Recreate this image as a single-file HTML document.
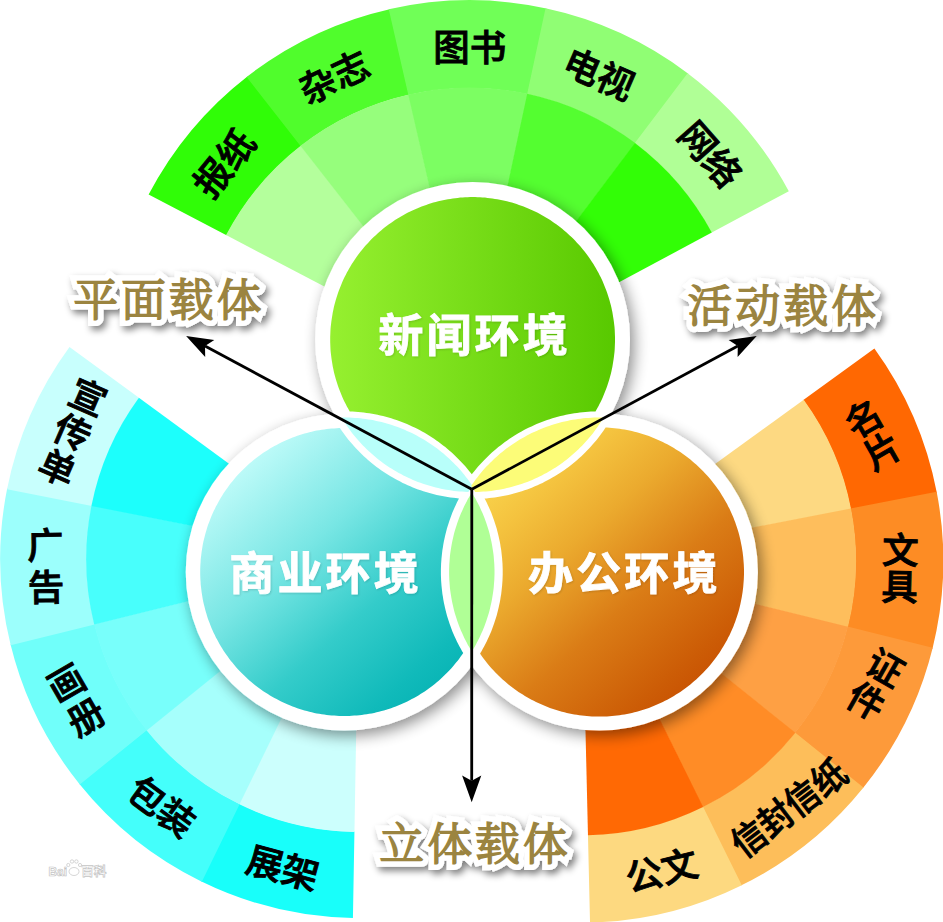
<!DOCTYPE html>
<html lang="zh"><head><meta charset="utf-8"><title>环境载体</title>
<style>html,body{margin:0;padding:0;background:#fff;}body{width:943px;height:922px;overflow:hidden;}svg{display:block;}</style>
</head><body>
<svg width="943" height="922" viewBox="0 0 943 922">
<defs>
<linearGradient id="gg" gradientUnits="userSpaceOnUse" x1="330.2" y1="0" x2="615" y2="0"><stop offset="0" stop-color="#96f030"/><stop offset="1" stop-color="#58c900"/></linearGradient>
<linearGradient id="gc" gradientUnits="userSpaceOnUse" x1="243.4" y1="456.8" x2="445" y2="687.2"><stop offset="0" stop-color="#c2fcfa"/><stop offset="0.36" stop-color="#78e6e4"/><stop offset="0.64" stop-color="#34ccca"/><stop offset="0.9" stop-color="#10baba"/><stop offset="1" stop-color="#08b4b5"/></linearGradient>
<linearGradient id="go" gradientUnits="userSpaceOnUse" x1="498.2" y1="456.3" x2="700.6" y2="687.7"><stop offset="0" stop-color="#fad850"/><stop offset="0.19" stop-color="#f4c23e"/><stop offset="0.374" stop-color="#ebaa2e"/><stop offset="0.64" stop-color="#da7c16"/><stop offset="0.91" stop-color="#cc5c06"/><stop offset="1" stop-color="#c85202"/></linearGradient>
<filter id="sh" x="-20%" y="-20%" width="140%" height="140%"><feGaussianBlur in="SourceAlpha" stdDeviation="7.5"/><feOffset dx="3.5" dy="4.5"/><feComponentTransfer><feFuncA type="linear" slope="0.45"/></feComponentTransfer><feMerge><feMergeNode/><feMergeNode in="SourceGraphic"/></feMerge></filter>
<filter id="ts" x="-20%" y="-40%" width="140%" height="180%"><feGaussianBlur in="SourceAlpha" stdDeviation="3.6"/><feOffset dx="2.5" dy="3.5"/><feComponentTransfer><feFuncA type="linear" slope="0.5"/></feComponentTransfer><feMerge><feMergeNode/><feMergeNode in="SourceGraphic"/></feMerge></filter>
<filter id="ws" x="-10%" y="-20%" width="120%" height="140%"><feGaussianBlur in="SourceAlpha" stdDeviation="1.2"/><feOffset dx="1" dy="1"/><feComponentTransfer><feFuncA type="linear" slope="0.15"/></feComponentTransfer><feMerge><feMergeNode/><feMergeNode in="SourceGraphic"/></feMerge></filter>
<clipPath id="cwg"><circle cx="472.6" cy="339.5" r="157.4"/></clipPath>
<clipPath id="cwc"><circle cx="344.2" cy="572.0" r="158.5"/></clipPath>
<clipPath id="cwo"><circle cx="599.4" cy="572.0" r="158.5"/></clipPath>
<clipPath id="clgc"><circle cx="344.2" cy="572.0" r="152.0"/></clipPath>
<clipPath id="clgo"><circle cx="599.4" cy="572.0" r="152.0"/></clipPath>
<clipPath id="clco"><circle cx="599.4" cy="572.0" r="150.3"/></clipPath>
</defs>
<rect width="943" height="922" fill="#fff"/>
<g id="fan-g">
<path d="M148.62,194.59A362.20,362.20 0 0 1 247.36,76.40L301.29,145.81A274.30,274.30 0 0 0 226.51,235.32Z" fill="#30fd07"/>
<path d="M469.60,362.40L226.07,235.09A274.80,274.80 0 0 1 300.98,145.41Z" fill="#b4ff9c"/>
<path d="M246.61,76.98A362.20,362.20 0 0 1 389.66,9.13L409.06,94.86A274.30,274.30 0 0 0 300.72,146.25Z" fill="#50fd2c"/>
<path d="M469.60,362.40L300.42,145.85A274.80,274.80 0 0 1 408.95,94.38Z" fill="#96fe7c"/>
<path d="M388.74,9.34A362.20,362.20 0 0 1 546.45,8.45L527.80,94.35A274.30,274.30 0 0 0 408.36,95.02Z" fill="#70ff57"/>
<path d="M469.60,362.40L408.25,94.54A274.80,274.80 0 0 1 527.91,93.86Z" fill="#7cfe62"/>
<path d="M545.52,8.25A362.20,362.20 0 0 1 688.33,73.71L635.25,143.77A274.30,274.30 0 0 0 527.10,94.19Z" fill="#90fe74"/>
<path d="M469.60,362.40L527.20,93.71A274.80,274.80 0 0 1 635.55,143.37Z" fill="#54fe30"/>
<path d="M687.58,73.13A362.20,362.20 0 0 1 788.81,191.24L711.34,232.78A274.30,274.30 0 0 0 634.68,143.33Z" fill="#b0ff96"/>
<path d="M469.60,362.40L634.98,142.93A274.80,274.80 0 0 1 711.78,232.54Z" fill="#32fe06"/>
</g>
<g id="fan-c">
<path d="M352.93,917.95A359.00,359.00 0 0 1 200.98,881.25L239.10,803.61A272.50,272.50 0 0 0 354.44,831.46Z" fill="#18fffa"/>
<path d="M359.20,559.00L354.44,831.96A273.00,273.00 0 0 1 238.88,804.06Z" fill="#ccfffd"/>
<path d="M201.82,881.67A359.00,359.00 0 0 1 79.22,783.71L146.68,729.56A272.50,272.50 0 0 0 239.74,803.92Z" fill="#44fffb"/>
<path d="M359.20,559.00L239.52,804.37A273.00,273.00 0 0 1 146.29,729.88Z" fill="#a6fffc"/>
<path d="M79.81,784.44A359.00,359.00 0 0 1 10.49,644.33L94.51,623.77A272.50,272.50 0 0 0 147.13,730.12Z" fill="#70fffa"/>
<path d="M359.20,559.00L146.74,730.43A273.00,273.00 0 0 1 94.02,623.89Z" fill="#78fffb"/>
<path d="M10.71,645.24A359.00,359.00 0 0 1 7.22,488.35L92.03,505.37A272.50,272.50 0 0 0 94.68,624.46Z" fill="#9cfffc"/>
<path d="M359.20,559.00L94.19,624.58A273.00,273.00 0 0 1 91.54,505.27Z" fill="#48fffc"/>
<path d="M7.04,489.27A359.00,359.00 0 0 1 69.50,346.97L139.30,398.06A272.50,272.50 0 0 0 91.89,506.07Z" fill="#c8fffd"/>
<path d="M359.20,559.00L91.40,505.97A273.00,273.00 0 0 1 138.90,397.76Z" fill="#1cfffc"/>
</g>
<g id="fan-o">
<path d="M874.39,348.39A361.80,361.80 0 0 1 936.83,492.70L850.60,509.22A274.00,274.00 0 0 0 803.31,399.94Z" fill="#ff6802"/>
<path d="M581.50,560.80L803.72,399.65A274.50,274.50 0 0 1 851.09,509.13Z" fill="#fdd982"/>
<path d="M936.65,491.77A361.80,361.80 0 0 1 932.48,648.63L847.30,627.32A274.00,274.00 0 0 0 850.47,508.52Z" fill="#fd8c24"/>
<path d="M581.50,560.80L850.96,508.42A274.50,274.50 0 0 1 847.79,627.44Z" fill="#febe5c"/>
<path d="M932.71,647.71A361.80,361.80 0 0 1 862.87,788.24L794.59,733.05A274.00,274.00 0 0 0 847.48,626.62Z" fill="#fd9a3a"/>
<path d="M581.50,560.80L847.96,626.74A274.50,274.50 0 0 1 794.98,733.36Z" fill="#fea044"/>
<path d="M863.46,787.51A361.80,361.80 0 0 1 740.95,885.57L702.26,806.75A274.00,274.00 0 0 0 795.04,732.49Z" fill="#fdbe5a"/>
<path d="M581.50,560.80L795.43,732.80A274.50,274.50 0 0 1 702.48,807.20Z" fill="#ff8c26"/>
<path d="M741.80,885.15A361.80,361.80 0 0 1 590.02,922.50L587.96,834.72A274.00,274.00 0 0 0 702.90,806.44Z" fill="#fdd980"/>
<path d="M581.50,560.80L703.12,806.89A274.50,274.50 0 0 1 587.97,835.22Z" fill="#ff6904"/>
</g>
<g filter="url(#sh)">
<circle cx="472.6" cy="339.5" r="157.4" fill="#fff"/>
<circle cx="344.2" cy="572.0" r="158.5" fill="#fff"/>
<circle cx="599.4" cy="572.0" r="158.5" fill="#fff"/>
</g>
<path d="M614.9,334.5L614.8,332.0L614.7,329.6L614.5,327.1L614.2,324.6L613.9,322.1L613.6,319.7L613.2,317.2L612.8,314.8L612.4,312.3L611.9,309.9L611.4,307.5L610.8,305.1L610.1,302.6L609.5,300.2L608.8,297.9L608.0,295.5L607.2,293.1L606.4,290.8L605.5,288.5L604.6,286.2L603.7,283.9L602.7,281.6L601.7,279.3L600.6,277.1L599.5,274.9L598.3,272.6L597.1,270.5L595.9,268.3L594.7,266.2L593.4,264.0L592.0,261.9L590.7,259.9L589.2,257.8L587.8,255.8L586.3,253.8L584.8,251.8L583.3,249.9L581.7,248.0L580.1,246.1L578.4,244.2L576.7,242.4L575.0,240.6L573.3,238.8L571.5,237.1L569.7,235.4L567.9,233.7L566.0,232.0L564.1,230.4L562.2,228.8L560.3,227.3L558.3,225.8L556.3,224.3L554.3,222.9L552.2,221.4L550.2,220.1L548.1,218.7L545.9,217.4L543.8,216.2L541.6,215.0L539.5,213.8L537.2,212.6L535.0,211.5L532.8,210.4L530.5,209.4L528.2,208.4L525.9,207.5L523.6,206.6L521.3,205.7L519.0,204.9L516.6,204.1L514.2,203.3L511.9,202.6L509.5,202.0L507.0,201.3L504.6,200.7L502.2,200.2L499.8,199.7L497.3,199.3L494.9,198.9L492.4,198.5L490.0,198.2L487.5,197.9L485.0,197.6L482.5,197.4L480.1,197.3L477.6,197.2L475.1,197.1L472.6,197.1L470.1,197.1L467.6,197.2L465.1,197.3L462.7,197.4L460.2,197.6L457.7,197.9L455.2,198.2L452.8,198.5L450.3,198.9L447.9,199.3L445.4,199.7L443.0,200.2L440.6,200.7L438.2,201.3L435.7,202.0L433.3,202.6L431.0,203.3L428.6,204.1L426.2,204.9L423.9,205.7L421.6,206.6L419.3,207.5L417.0,208.4L414.7,209.4L412.4,210.4L410.2,211.5L408.0,212.6L405.7,213.8L403.6,215.0L401.4,216.2L399.3,217.4L397.1,218.7L395.0,220.1L393.0,221.4L390.9,222.9L388.9,224.3L386.9,225.8L384.9,227.3L383.0,228.8L381.1,230.4L379.2,232.0L377.3,233.7L375.5,235.4L373.7,237.1L371.9,238.8L370.2,240.6L368.5,242.4L366.8,244.2L365.1,246.1L363.5,248.0L361.9,249.9L360.4,251.8L358.9,253.8L357.4,255.8L356.0,257.8L354.5,259.9L353.2,261.9L351.8,264.0L350.5,266.2L349.3,268.3L348.1,270.5L346.9,272.6L345.7,274.9L344.6,277.1L343.5,279.3L342.5,281.6L341.5,283.9L340.6,286.2L339.7,288.5L338.8,290.8L338.0,293.1L337.2,295.5L336.4,297.9L335.7,300.2L335.1,302.6L334.4,305.1L333.8,307.5L333.3,309.9L332.8,312.3L332.4,314.8L332.0,317.2L331.6,319.7L331.3,322.1L331.0,324.6L330.7,327.1L330.5,329.6L330.4,332.0L330.3,334.5L330.2,337.0L330.2,339.5L330.2,342.0L330.3,344.5L330.4,347.0L330.5,349.4L330.7,351.9L331.0,354.4L331.3,356.9L331.6,359.3L332.0,361.8L332.4,364.2L332.8,366.7L333.3,369.1L333.8,371.5L334.4,373.9L335.1,376.4L335.7,378.8L336.4,381.1L337.2,383.5L338.0,385.9L338.8,388.2L339.7,390.5L340.6,392.8L341.5,395.1L342.5,397.4L343.5,399.7L344.6,401.9L345.7,404.1L346.9,406.4L348.1,408.5L349.3,410.7L349.7,411.4L349.8,411.4L352.6,411.5L355.4,411.7L358.2,411.9L361.0,412.2L363.8,412.5L366.6,412.9L369.3,413.3L372.1,413.7L374.9,414.3L377.6,414.8L380.3,415.4L383.1,416.1L385.8,416.8L388.5,417.5L391.2,418.3L393.9,419.2L396.5,420.1L399.2,421.0L401.8,422.0L404.4,423.0L407.0,424.1L409.6,425.2L412.1,426.4L414.6,427.6L417.2,428.8L419.6,430.1L422.1,431.4L424.6,432.8L427.0,434.3L429.4,435.7L431.7,437.2L434.1,438.8L436.4,440.4L438.7,442.0L440.9,443.7L443.1,445.4L445.3,447.1L447.5,448.9L449.6,450.7L451.7,452.6L453.8,454.5L455.8,456.4L457.8,458.4L459.8,460.4L461.7,462.4L463.6,464.5L465.5,466.6L467.3,468.7L469.1,470.9L470.8,473.1L471.8,474.3L472.8,473.1L474.5,470.9L476.3,468.7L478.1,466.6L480.0,464.5L481.9,462.4L483.8,460.4L485.8,458.4L487.8,456.4L489.8,454.5L491.9,452.6L494.0,450.7L496.1,448.9L498.3,447.1L500.5,445.4L502.7,443.7L504.9,442.0L507.2,440.4L509.5,438.8L511.9,437.2L514.2,435.7L516.6,434.3L519.1,432.8L521.5,431.4L524.0,430.1L526.4,428.8L529.0,427.6L531.5,426.4L534.0,425.2L536.6,424.1L539.2,423.0L541.8,422.0L544.4,421.0L547.1,420.1L549.7,419.2L552.4,418.3L555.1,417.5L557.8,416.8L560.5,416.1L563.3,415.4L566.0,414.8L568.7,414.3L571.5,413.7L574.3,413.3L577.0,412.9L579.8,412.5L582.6,412.2L585.4,411.9L588.2,411.7L591.0,411.5L593.8,411.4L595.5,411.4L595.9,410.7L597.1,408.5L598.3,406.4L599.5,404.1L600.6,401.9L601.7,399.7L602.7,397.4L603.7,395.1L604.6,392.8L605.5,390.5L606.4,388.2L607.2,385.9L608.0,383.5L608.8,381.1L609.5,378.8L610.1,376.4L610.8,373.9L611.4,371.5L611.9,369.1L612.4,366.7L612.8,364.2L613.2,361.8L613.6,359.3L613.9,356.9L614.2,354.4L614.5,351.9L614.7,349.4L614.8,347.0L614.9,344.5L615.0,342.0L615.0,339.5L615.0,337.0Z" fill="url(#gg)"/>
<path d="M458.7,498.4L455.9,498.1L453.2,497.8L450.4,497.4L447.6,497.0L444.9,496.6L442.2,496.1L439.4,495.5L436.7,494.9L434.0,494.3L431.3,493.6L428.6,492.8L426.0,492.0L423.3,491.2L420.7,490.3L418.0,489.4L415.4,488.4L412.9,487.4L410.3,486.3L407.7,485.2L405.2,484.1L402.7,482.9L400.2,481.6L397.7,480.3L395.3,479.0L392.8,477.6L390.5,476.2L388.1,474.8L385.7,473.3L383.4,471.7L381.1,470.2L378.8,468.5L376.6,466.9L374.4,465.2L372.2,463.5L370.1,461.7L368.0,459.9L365.9,458.0L363.8,456.2L361.8,454.2L359.8,452.3L357.9,450.3L355.9,448.3L354.1,446.2L352.2,444.1L350.4,442.0L348.6,439.9L346.9,437.7L345.2,435.5L343.6,433.3L341.9,431.0L340.4,428.7L340.0,428.1L339.2,428.1L336.7,428.2L334.2,428.4L331.6,428.5L329.1,428.8L326.7,429.1L324.2,429.4L321.7,429.8L319.2,430.2L316.7,430.6L314.3,431.1L311.8,431.7L309.4,432.3L306.9,432.9L304.5,433.6L302.1,434.3L299.7,435.0L297.3,435.8L294.9,436.7L292.6,437.6L290.3,438.5L287.9,439.4L285.6,440.4L283.3,441.5L281.1,442.6L278.8,443.7L276.6,444.9L274.4,446.1L272.2,447.3L270.0,448.6L267.9,449.9L265.8,451.2L263.7,452.6L261.6,454.0L259.6,455.5L257.5,457.0L255.5,458.5L253.6,460.1L251.6,461.7L249.7,463.3L247.8,465.0L246.0,466.7L244.2,468.4L242.4,470.2L240.6,472.0L238.9,473.8L237.2,475.6L235.5,477.5L233.9,479.4L232.3,481.4L230.7,483.3L229.2,485.3L227.7,487.4L226.2,489.4L224.8,491.5L223.4,493.6L222.1,495.7L220.8,497.8L219.5,500.0L218.3,502.2L217.1,504.4L215.9,506.6L214.8,508.9L213.7,511.1L212.6,513.4L211.6,515.7L210.7,518.1L209.8,520.4L208.9,522.7L208.0,525.1L207.2,527.5L206.5,529.9L205.8,532.3L205.1,534.7L204.5,537.2L203.9,539.6L203.3,542.1L202.8,544.5L202.4,547.0L202.0,549.5L201.6,552.0L201.3,554.5L201.0,556.9L200.7,559.4L200.6,562.0L200.4,564.5L200.3,567.0L200.2,569.5L200.2,572.0L200.2,574.5L200.3,577.0L200.4,579.5L200.6,582.0L200.7,584.6L201.0,587.1L201.3,589.5L201.6,592.0L202.0,594.5L202.4,597.0L202.8,599.5L203.3,601.9L203.9,604.4L204.5,606.8L205.1,609.3L205.8,611.7L206.5,614.1L207.2,616.5L208.0,618.9L208.9,621.3L209.8,623.6L210.7,625.9L211.6,628.3L212.6,630.6L213.7,632.9L214.8,635.1L215.9,637.4L217.1,639.6L218.3,641.8L219.5,644.0L220.8,646.2L222.1,648.3L223.4,650.4L224.8,652.5L226.2,654.6L227.7,656.6L229.2,658.7L230.7,660.7L232.3,662.6L233.9,664.6L235.5,666.5L237.2,668.4L238.9,670.2L240.6,672.0L242.4,673.8L244.2,675.6L246.0,677.3L247.8,679.0L249.7,680.7L251.6,682.3L253.6,683.9L255.5,685.5L257.5,687.0L259.6,688.5L261.6,690.0L263.7,691.4L265.8,692.8L267.9,694.1L270.0,695.4L272.2,696.7L274.4,697.9L276.6,699.1L278.8,700.3L281.1,701.4L283.3,702.5L285.6,703.6L287.9,704.6L290.3,705.5L292.6,706.4L294.9,707.3L297.3,708.2L299.7,709.0L302.1,709.7L304.5,710.4L306.9,711.1L309.4,711.7L311.8,712.3L314.3,712.9L316.7,713.4L319.2,713.8L321.7,714.2L324.2,714.6L326.7,714.9L329.1,715.2L331.6,715.5L334.2,715.6L336.7,715.8L339.2,715.9L341.7,716.0L344.2,716.0L346.7,716.0L349.2,715.9L351.7,715.8L354.2,715.6L356.8,715.5L359.3,715.2L361.7,714.9L364.2,714.6L366.7,714.2L369.2,713.8L371.7,713.4L374.1,712.9L376.6,712.3L379.0,711.7L381.5,711.1L383.9,710.4L386.3,709.7L388.7,709.0L391.1,708.2L393.5,707.3L395.8,706.4L398.1,705.5L400.5,704.6L402.8,703.6L405.1,702.5L407.3,701.4L409.6,700.3L411.8,699.1L414.0,697.9L416.2,696.7L418.4,695.4L420.5,694.1L422.6,692.8L424.7,691.4L426.8,690.0L428.8,688.5L430.9,687.0L432.9,685.5L434.8,683.9L436.8,682.3L438.7,680.7L440.6,679.0L442.4,677.3L444.2,675.6L446.0,673.8L447.8,672.0L449.5,670.2L451.2,668.4L452.9,666.5L454.5,664.6L456.1,662.6L457.7,660.7L459.2,658.7L460.7,656.6L462.2,654.6L463.2,653.1L462.1,651.2L460.8,648.8L459.5,646.4L458.2,644.0L456.9,641.5L455.8,639.0L454.6,636.5L453.5,633.9L452.4,631.4L451.4,628.8L450.5,626.2L449.5,623.6L448.7,621.0L447.8,618.3L447.0,615.7L446.3,613.0L445.6,610.3L445.0,607.7L444.4,605.0L443.8,602.2L443.3,599.5L442.9,596.8L442.4,594.1L442.1,591.3L441.8,588.6L441.5,585.8L441.3,583.1L441.1,580.3L441.0,577.5L440.9,574.8L440.9,572.0L440.9,569.2L441.0,566.5L441.1,563.7L441.3,560.9L441.5,558.2L441.8,555.4L442.1,552.7L442.4,549.9L442.9,547.2L443.3,544.5L443.8,541.8L444.4,539.0L445.0,536.3L445.6,533.7L446.3,531.0L447.0,528.3L447.8,525.7L448.7,523.0L449.5,520.4L450.5,517.8L451.4,515.2L452.4,512.6L453.5,510.1L454.6,507.5L455.8,505.0L456.9,502.5L458.2,500.0L459.0,498.4Z" fill="url(#gc)"/>
<path d="M743.9,567.0L743.8,564.4L743.6,561.9L743.4,559.4L743.2,556.9L742.9,554.4L742.6,551.9L742.2,549.4L741.8,546.9L741.3,544.4L740.8,541.9L740.3,539.5L739.7,537.0L739.1,534.6L738.4,532.1L737.7,529.7L736.9,527.3L736.1,524.9L735.3,522.5L734.4,520.2L733.5,517.8L732.5,515.5L731.5,513.2L730.5,510.9L729.4,508.6L728.2,506.4L727.1,504.1L725.9,501.9L724.6,499.7L723.3,497.5L722.0,495.4L720.7,493.2L719.3,491.1L717.8,489.1L716.4,487.0L714.9,485.0L713.3,483.0L711.8,481.0L710.2,479.1L708.5,477.1L706.9,475.2L705.2,473.4L703.4,471.6L701.6,469.8L699.8,468.0L698.0,466.2L696.2,464.5L694.3,462.9L692.3,461.2L690.4,459.6L688.4,458.1L686.4,456.5L684.4,455.0L682.3,453.6L680.3,452.1L678.2,450.7L676.0,449.4L673.9,448.1L671.7,446.8L669.5,445.5L667.3,444.3L665.0,443.2L662.8,442.0L660.5,440.9L658.2,439.9L655.9,438.9L653.6,437.9L651.2,437.0L648.9,436.1L646.5,435.3L644.1,434.5L641.7,433.7L639.3,433.0L636.8,432.3L634.4,431.7L631.9,431.1L629.5,430.6L627.0,430.1L624.5,429.6L622.0,429.2L619.5,428.8L617.0,428.5L614.5,428.2L612.0,428.0L609.5,427.8L607.0,427.6L605.6,427.5L604.8,428.7L603.3,431.0L601.6,433.3L600.0,435.5L598.3,437.7L596.6,439.9L594.8,442.0L593.0,444.1L591.1,446.2L589.3,448.3L587.3,450.3L585.4,452.3L583.4,454.2L581.4,456.2L579.3,458.0L577.2,459.9L575.1,461.7L573.0,463.5L570.8,465.2L568.6,466.9L566.4,468.5L564.1,470.2L561.8,471.7L559.5,473.3L557.1,474.8L554.7,476.2L552.4,477.6L549.9,479.0L547.5,480.3L545.0,481.6L542.5,482.9L540.0,484.1L537.5,485.2L534.9,486.3L532.3,487.4L529.8,488.4L527.2,489.4L524.5,490.3L521.9,491.2L519.2,492.0L516.6,492.8L513.9,493.6L511.2,494.3L508.5,494.9L505.8,495.5L503.0,496.1L500.3,496.6L497.6,497.0L494.8,497.4L492.0,497.8L489.3,498.1L486.5,498.4L484.6,498.5L485.4,500.0L486.7,502.5L487.8,505.0L489.0,507.5L490.1,510.1L491.2,512.6L492.2,515.2L493.1,517.8L494.1,520.4L494.9,523.0L495.8,525.7L496.6,528.3L497.3,531.0L498.0,533.7L498.6,536.3L499.2,539.0L499.8,541.8L500.3,544.5L500.7,547.2L501.2,549.9L501.5,552.7L501.8,555.4L502.1,558.2L502.3,560.9L502.5,563.7L502.6,566.5L502.7,569.2L502.7,572.0L502.7,574.8L502.6,577.5L502.5,580.3L502.3,583.1L502.1,585.8L501.8,588.6L501.5,591.3L501.2,594.1L500.7,596.8L500.3,599.5L499.8,602.2L499.2,605.0L498.6,607.7L498.0,610.3L497.3,613.0L496.6,615.7L495.8,618.3L494.9,621.0L494.1,623.6L493.1,626.2L492.2,628.8L491.2,631.4L490.1,633.9L489.0,636.5L487.8,639.0L486.7,641.5L485.4,644.0L484.1,646.4L482.8,648.8L481.5,651.3L480.1,653.6L480.1,653.6L481.0,654.9L482.4,657.0L483.9,659.0L485.5,661.0L487.0,663.0L488.6,664.9L490.3,666.9L491.9,668.8L493.6,670.6L495.4,672.4L497.2,674.2L499.0,676.0L500.8,677.8L502.6,679.5L504.5,681.1L506.5,682.8L508.4,684.4L510.4,685.9L512.4,687.5L514.4,689.0L516.5,690.4L518.5,691.9L520.6,693.3L522.8,694.6L524.9,695.9L527.1,697.2L529.3,698.5L531.5,699.7L533.8,700.8L536.0,702.0L538.3,703.1L540.6,704.1L542.9,705.1L545.2,706.1L547.6,707.0L549.9,707.9L552.3,708.7L554.7,709.5L557.1,710.3L559.5,711.0L562.0,711.7L564.4,712.3L566.9,712.9L569.3,713.4L571.8,713.9L574.3,714.4L576.8,714.8L579.3,715.2L581.8,715.5L584.3,715.8L586.8,716.0L589.3,716.2L591.8,716.4L594.4,716.5L596.9,716.6L599.4,716.6L601.9,716.6L604.4,716.5L607.0,716.4L609.5,716.2L612.0,716.0L614.5,715.8L617.0,715.5L619.5,715.2L622.0,714.8L624.5,714.4L627.0,713.9L629.5,713.4L631.9,712.9L634.4,712.3L636.8,711.7L639.3,711.0L641.7,710.3L644.1,709.5L646.5,708.7L648.9,707.9L651.2,707.0L653.6,706.1L655.9,705.1L658.2,704.1L660.5,703.1L662.8,702.0L665.0,700.8L667.3,699.7L669.5,698.5L671.7,697.2L673.9,695.9L676.0,694.6L678.2,693.3L680.3,691.9L682.3,690.4L684.4,689.0L686.4,687.5L688.4,685.9L690.4,684.4L692.3,682.8L694.3,681.1L696.2,679.5L698.0,677.8L699.8,676.0L701.6,674.2L703.4,672.4L705.2,670.6L706.9,668.8L708.5,666.9L710.2,664.9L711.8,663.0L713.3,661.0L714.9,659.0L716.4,657.0L717.8,654.9L719.3,652.9L720.7,650.8L722.0,648.6L723.3,646.5L724.6,644.3L725.9,642.1L727.1,639.9L728.2,637.6L729.4,635.4L730.5,633.1L731.5,630.8L732.5,628.5L733.5,626.2L734.4,623.8L735.3,621.5L736.1,619.1L736.9,616.7L737.7,614.3L738.4,611.9L739.1,609.4L739.7,607.0L740.3,604.5L740.8,602.1L741.3,599.6L741.8,597.1L742.2,594.6L742.6,592.1L742.9,589.6L743.2,587.1L743.4,584.6L743.6,582.1L743.8,579.6L743.9,577.0L744.0,574.5L744.0,572.0L744.0,569.5Z" fill="url(#go)"/>
<path d="M343.3,420.3L344.7,422.6L346.2,424.8L347.7,427.0L349.2,429.1L350.8,431.3L352.4,433.4L354.1,435.5L355.8,437.5L357.5,439.5L359.3,441.5L361.1,443.5L362.9,445.4L364.8,447.3L366.7,449.2L368.6,451.0L370.6,452.8L372.6,454.6L374.6,456.3L376.6,458.0L378.7,459.7L380.8,461.3L383.0,462.9L385.1,464.4L387.3,465.9L389.5,467.4L391.8,468.8L394.1,470.2L396.3,471.6L398.7,472.9L401.0,474.1L403.4,475.4L405.7,476.6L408.2,477.7L410.6,478.8L413.0,479.9L415.5,480.9L417.9,481.9L420.4,482.8L423.0,483.7L425.5,484.5L428.0,485.3L430.6,486.1L433.1,486.8L435.7,487.5L438.3,488.1L440.9,488.7L443.5,489.2L446.1,489.7L448.7,490.1L451.4,490.5L454.0,490.9L456.7,491.2L459.3,491.4L462.0,491.6L464.6,491.8L467.3,491.9L468.4,491.9L469.2,490.7L470.7,488.4L472.1,486.2L472.4,485.8L472.3,485.6L470.8,483.4L469.2,481.2L467.6,479.0L465.9,476.9L464.3,474.8L462.6,472.7L460.8,470.6L459.0,468.6L457.2,466.6L455.3,464.7L453.4,462.8L451.5,460.9L449.6,459.0L447.6,457.2L445.6,455.4L443.5,453.6L441.4,451.9L439.3,450.3L437.2,448.6L435.0,447.0L432.8,445.4L430.6,443.9L428.3,442.4L426.1,441.0L423.8,439.6L421.4,438.2L419.1,436.9L416.7,435.6L414.3,434.3L411.9,433.1L409.5,432.0L407.0,430.9L404.6,429.8L402.1,428.8L399.6,427.8L397.0,426.8L394.5,425.9L391.9,425.1L389.4,424.3L386.8,423.5L384.2,422.8L381.6,422.1L379.0,421.5L376.3,420.9L373.7,420.3L371.0,419.8L368.4,419.4L365.7,419.0L363.0,418.7L360.3,418.3L357.7,418.1L355.0,417.9L352.3,417.7L349.6,417.6L346.9,417.5L344.2,417.5L341.6,417.5L341.9,418.0Z" fill="#b8fffa"/>
<path d="M475.3,492.0L477.9,491.9L480.6,491.8L483.2,491.6L485.9,491.4L488.5,491.2L491.2,490.9L493.8,490.5L496.5,490.1L499.1,489.7L501.7,489.2L504.3,488.7L506.9,488.1L509.5,487.5L512.1,486.8L514.6,486.1L517.2,485.3L519.7,484.5L522.2,483.7L524.8,482.8L527.3,481.9L529.7,480.9L532.2,479.9L534.6,478.8L537.0,477.7L539.5,476.6L541.8,475.4L544.2,474.1L546.5,472.9L548.9,471.6L551.1,470.2L553.4,468.8L555.7,467.4L557.9,465.9L560.1,464.4L562.2,462.9L564.4,461.3L566.5,459.7L568.6,458.0L570.6,456.3L572.6,454.6L574.6,452.8L576.6,451.0L578.5,449.2L580.4,447.3L582.3,445.4L584.1,443.5L585.9,441.5L587.7,439.5L589.4,437.5L591.1,435.5L592.8,433.4L594.4,431.3L596.0,429.1L597.5,427.0L599.0,424.8L600.5,422.6L601.9,420.3L603.3,418.0L603.6,417.6L602.1,417.5L599.4,417.5L596.7,417.5L594.0,417.6L591.3,417.7L588.6,417.9L585.9,418.1L583.3,418.3L580.6,418.7L577.9,419.0L575.2,419.4L572.6,419.8L569.9,420.3L567.3,420.9L564.6,421.5L562.0,422.1L559.4,422.8L556.8,423.5L554.2,424.3L551.7,425.1L549.1,425.9L546.6,426.8L544.0,427.8L541.5,428.8L539.0,429.8L536.6,430.9L534.1,432.0L531.7,433.1L529.3,434.3L526.9,435.6L524.5,436.9L522.1,438.2L519.8,439.6L517.5,441.0L515.3,442.4L513.0,443.9L510.8,445.4L508.6,447.0L506.4,448.6L504.3,450.3L502.2,451.9L500.1,453.6L498.0,455.4L496.0,457.2L494.0,459.0L492.1,460.9L490.2,462.8L488.3,464.7L486.4,466.6L484.6,468.6L482.8,470.6L481.0,472.7L479.3,474.8L477.7,476.9L476.0,479.0L474.4,481.2L472.8,483.4L471.3,485.6L471.2,485.8L471.5,486.2L472.9,488.4L474.4,490.7L475.2,492.0Z" fill="#fcfc78"/>
<path d="M494.4,566.8L494.3,564.1L494.1,561.5L493.9,558.9L493.7,556.3L493.4,553.7L493.0,551.1L492.6,548.5L492.2,545.9L491.7,543.3L491.2,540.8L490.6,538.2L490.0,535.6L489.4,533.1L488.7,530.6L487.9,528.1L487.1,525.6L486.3,523.1L485.4,520.6L484.5,518.1L483.6,515.7L482.6,513.3L481.5,510.9L480.4,508.5L479.3,506.1L478.1,503.8L476.9,501.4L475.7,499.1L474.4,496.9L473.0,494.6L471.8,492.6L470.6,494.6L469.2,496.9L467.9,499.1L466.7,501.4L465.5,503.8L464.3,506.1L463.2,508.5L462.1,510.9L461.0,513.3L460.0,515.7L459.1,518.1L458.2,520.6L457.3,523.1L456.5,525.6L455.7,528.1L454.9,530.6L454.2,533.1L453.6,535.6L453.0,538.2L452.4,540.8L451.9,543.3L451.4,545.9L451.0,548.5L450.6,551.1L450.2,553.7L449.9,556.3L449.7,558.9L449.5,561.5L449.3,564.1L449.2,566.8L449.1,569.4L449.1,572.0L449.1,574.6L449.2,577.2L449.3,579.9L449.5,582.5L449.7,585.1L449.9,587.7L450.2,590.3L450.6,592.9L451.0,595.5L451.4,598.1L451.9,600.7L452.4,603.2L453.0,605.8L453.6,608.4L454.2,610.9L454.9,613.4L455.7,615.9L456.5,618.4L457.3,620.9L458.2,623.4L459.1,625.9L460.0,628.3L461.0,630.7L462.1,633.1L463.2,635.5L464.3,637.9L465.5,640.2L466.7,642.6L467.9,644.9L469.2,647.1L470.6,649.4L471.8,651.4L473.0,649.4L474.4,647.2L475.7,644.9L476.9,642.6L478.1,640.2L479.3,637.9L480.4,635.5L481.5,633.1L482.6,630.7L483.6,628.3L484.5,625.9L485.4,623.4L486.3,620.9L487.1,618.4L487.9,615.9L488.7,613.4L489.4,610.9L490.0,608.4L490.6,605.8L491.2,603.2L491.7,600.7L492.2,598.1L492.6,595.5L493.0,592.9L493.4,590.3L493.7,587.7L493.9,585.1L494.1,582.5L494.3,579.9L494.4,577.2L494.5,574.6L494.5,572.0L494.5,569.4Z" fill="#b0ff96"/>
<path d="M471.8,489.2L205.0,346.1" stroke="#000" stroke-width="2.8" fill="none"/>
<path d="M186.1,335.9L214.3,340.1L205.0,346.1L205.2,357.0Z" fill="#000"/>
<path d="M471.8,489.2L737.8,346.1" stroke="#000" stroke-width="2.8" fill="none"/>
<path d="M756.7,335.9L737.6,357.1L737.8,346.1L728.6,340.1Z" fill="#000"/>
<path d="M471.8,489.2L471.7,780.7" stroke="#000" stroke-width="2.8" fill="none"/>
<path d="M471.7,802.2L462.1,775.4L471.7,780.7L481.3,775.4Z" fill="#000"/>
<text x="474.6" y="336.5" font-family="'Liberation Sans','Noto Sans CJK SC',sans-serif" font-size="45.2" letter-spacing="3" font-weight="700" fill="#fff" stroke="#fff" stroke-width="0.8" text-anchor="middle" dominant-baseline="central" filter="url(#ws)">新闻环境</text>
<text x="325.6" y="574.3" font-family="'Liberation Sans','Noto Sans CJK SC',sans-serif" font-size="45.2" letter-spacing="3" font-weight="700" fill="#fff" stroke="#fff" stroke-width="0.8" text-anchor="middle" dominant-baseline="central" filter="url(#ws)">商业环境</text>
<text x="624.3" y="574.3" font-family="'Liberation Sans','Noto Sans CJK SC',sans-serif" font-size="45.2" letter-spacing="3" font-weight="700" fill="#fff" stroke="#fff" stroke-width="0.8" text-anchor="middle" dominant-baseline="central" filter="url(#ws)">办公环境</text>
<g font-family="'Liberation Serif','Noto Serif CJK SC',serif" font-size="44.5" letter-spacing="3.3" font-weight="300" text-anchor="middle">
<text x="169" y="300.7" fill="#fff" stroke="#fff" stroke-width="13" stroke-linejoin="miter" stroke-miterlimit="2.5" dominant-baseline="central" filter="url(#ts)">平面载体</text>
<text x="169" y="300.7" fill="#9b8440" stroke="#9b8440" stroke-width="1.8" dominant-baseline="central">平面载体</text>
</g>
<g font-family="'Liberation Serif','Noto Serif CJK SC',serif" font-size="44.5" letter-spacing="3.3" font-weight="300" text-anchor="middle">
<text x="783.4" y="307.2" fill="#fff" stroke="#fff" stroke-width="13" stroke-linejoin="miter" stroke-miterlimit="2.5" dominant-baseline="central" filter="url(#ts)">活动载体</text>
<text x="783.4" y="307.2" fill="#9b8440" stroke="#9b8440" stroke-width="1.8" dominant-baseline="central">活动载体</text>
</g>
<g font-family="'Liberation Serif','Noto Serif CJK SC',serif" font-size="44.5" letter-spacing="3.3" font-weight="300" text-anchor="middle">
<text x="475.2" y="844.8" fill="#fff" stroke="#fff" stroke-width="13" stroke-linejoin="miter" stroke-miterlimit="2.5" dominant-baseline="central" filter="url(#ts)">立体载体</text>
<text x="475.2" y="844.8" fill="#9b8440" stroke="#9b8440" stroke-width="1.8" dominant-baseline="central">立体载体</text>
</g>
<text transform="translate(224.0,163.0) rotate(-50.9)" font-family="'Liberation Sans','Noto Sans CJK SC',sans-serif" font-size="36.5" font-weight="500" fill="#000" stroke="#000" stroke-width="0.9" text-anchor="middle" dominant-baseline="central" dy="1.5" >报纸</text>
<text transform="translate(334.0,76.5) rotate(-25.6)" font-family="'Liberation Sans','Noto Sans CJK SC',sans-serif" font-size="36.5" font-weight="500" fill="#000" stroke="#000" stroke-width="0.9" text-anchor="middle" dominant-baseline="central" dy="1.5" >杂志</text>
<text transform="translate(469.8,46.5) rotate(0.0)" font-family="'Liberation Sans','Noto Sans CJK SC',sans-serif" font-size="36.5" font-weight="500" fill="#000" stroke="#000" stroke-width="0.9" text-anchor="middle" dominant-baseline="central" dy="1.5" >图书</text>
<text transform="translate(599.2,73.6) rotate(23.6)" font-family="'Liberation Sans','Noto Sans CJK SC',sans-serif" font-size="36.5" font-weight="500" fill="#000" stroke="#000" stroke-width="0.9" text-anchor="middle" dominant-baseline="central" dy="1.5" >电视</text>
<text transform="translate(710.6,154.0) rotate(48.5)" font-family="'Liberation Sans','Noto Sans CJK SC',sans-serif" font-size="36.5" font-weight="500" fill="#000" stroke="#000" stroke-width="0.9" text-anchor="middle" dominant-baseline="central" dy="1.5" >网络</text>
<g transform="translate(72.9,432.0) rotate(23.5)" font-family="'Liberation Sans','Noto Sans CJK SC',sans-serif" font-size="36.5" font-weight="500" fill="#000" stroke="#000" stroke-width="0.9" text-anchor="middle">
<text x="0" y="-37.0" dominant-baseline="central">宣</text>
<text x="0" y="1.5" dominant-baseline="central">传</text>
<text x="0" y="40.0" dominant-baseline="central">单</text>
</g>
<g transform="translate(45.6,565.6) rotate(-1.0)" font-family="'Liberation Sans','Noto Sans CJK SC',sans-serif" font-size="36.5" font-weight="500" fill="#000" stroke="#000" stroke-width="0.9" text-anchor="middle">
<text x="0" y="-19.5" dominant-baseline="central">广</text>
<text x="0" y="22.5" dominant-baseline="central">告</text>
</g>
<g transform="translate(76.0,699.4) rotate(-30.0)" font-family="'Liberation Sans','Noto Sans CJK SC',sans-serif" font-size="36.5" font-weight="500" fill="#000" stroke="#000" stroke-width="0.9" text-anchor="middle">
<text x="0" y="-18.3" dominant-baseline="central">画</text>
<text x="0" y="21.3" dominant-baseline="central">册</text>
</g>
<text transform="translate(161.9,806.2) rotate(36.3)" font-family="'Liberation Sans','Noto Sans CJK SC',sans-serif" font-size="36.5" font-weight="500" fill="#000" stroke="#000" stroke-width="0.9" text-anchor="middle" dominant-baseline="central" dy="1.5" >包装</text>
<text transform="translate(283.0,867.4) rotate(15.2)" font-family="'Liberation Sans','Noto Sans CJK SC',sans-serif" font-size="36.5" font-weight="500" fill="#000" stroke="#000" stroke-width="0.9" text-anchor="middle" dominant-baseline="central" dy="1.5" >展架</text>
<g transform="translate(872.9,434.4) rotate(-29.8)" font-family="'Liberation Sans','Noto Sans CJK SC',sans-serif" font-size="36.5" font-weight="500" fill="#000" stroke="#000" stroke-width="0.9" text-anchor="middle">
<text x="0" y="-17.2" dominant-baseline="central">名</text>
<text x="0" y="20.2" dominant-baseline="central">片</text>
</g>
<g transform="translate(900.0,568.0) rotate(1.5)" font-family="'Liberation Sans','Noto Sans CJK SC',sans-serif" font-size="36.5" font-weight="500" fill="#000" stroke="#000" stroke-width="0.9" text-anchor="middle">
<text x="0" y="-16.8" dominant-baseline="central">文</text>
<text x="0" y="19.8" dominant-baseline="central">具</text>
</g>
<g transform="translate(876.0,684.0) rotate(29.7)" font-family="'Liberation Sans','Noto Sans CJK SC',sans-serif" font-size="36.5" font-weight="500" fill="#000" stroke="#000" stroke-width="0.9" text-anchor="middle">
<text x="0" y="-17.6" dominant-baseline="central">证</text>
<text x="0" y="20.6" dominant-baseline="central">件</text>
</g>
<text transform="translate(788.5,807.6) rotate(-37.3)" font-family="'Liberation Sans','Noto Sans CJK SC',sans-serif" font-size="36.5" font-weight="500" fill="#000" stroke="#000" stroke-width="0.9" text-anchor="middle" dominant-baseline="central" dy="1.5" textLength="134" lengthAdjust="spacingAndGlyphs">信封信纸</text>
<text transform="translate(661.6,870.0) rotate(-13.5)" font-family="'Liberation Sans','Noto Sans CJK SC',sans-serif" font-size="36.5" font-weight="500" fill="#000" stroke="#000" stroke-width="0.9" text-anchor="middle" dominant-baseline="central" dy="1.5" >公文</text>
<g font-family="'Liberation Sans','Noto Sans CJK SC',sans-serif" font-size="12.5" font-weight="700" fill="#fff" stroke="#c4c4c4" stroke-width="0.7">
<text x="48.5" y="876" textLength="18.5" lengthAdjust="spacingAndGlyphs">Bai</text>
<text x="81" y="876" textLength="25.5" lengthAdjust="spacingAndGlyphs">百科</text>
<ellipse cx="74" cy="871.5" rx="5" ry="4"/><circle cx="68.3" cy="865" r="1.6"/><circle cx="72" cy="861.5" r="1.7"/><circle cx="76.4" cy="861.5" r="1.7"/><circle cx="80" cy="865" r="1.6"/>
</g>
</svg>
</body></html>
